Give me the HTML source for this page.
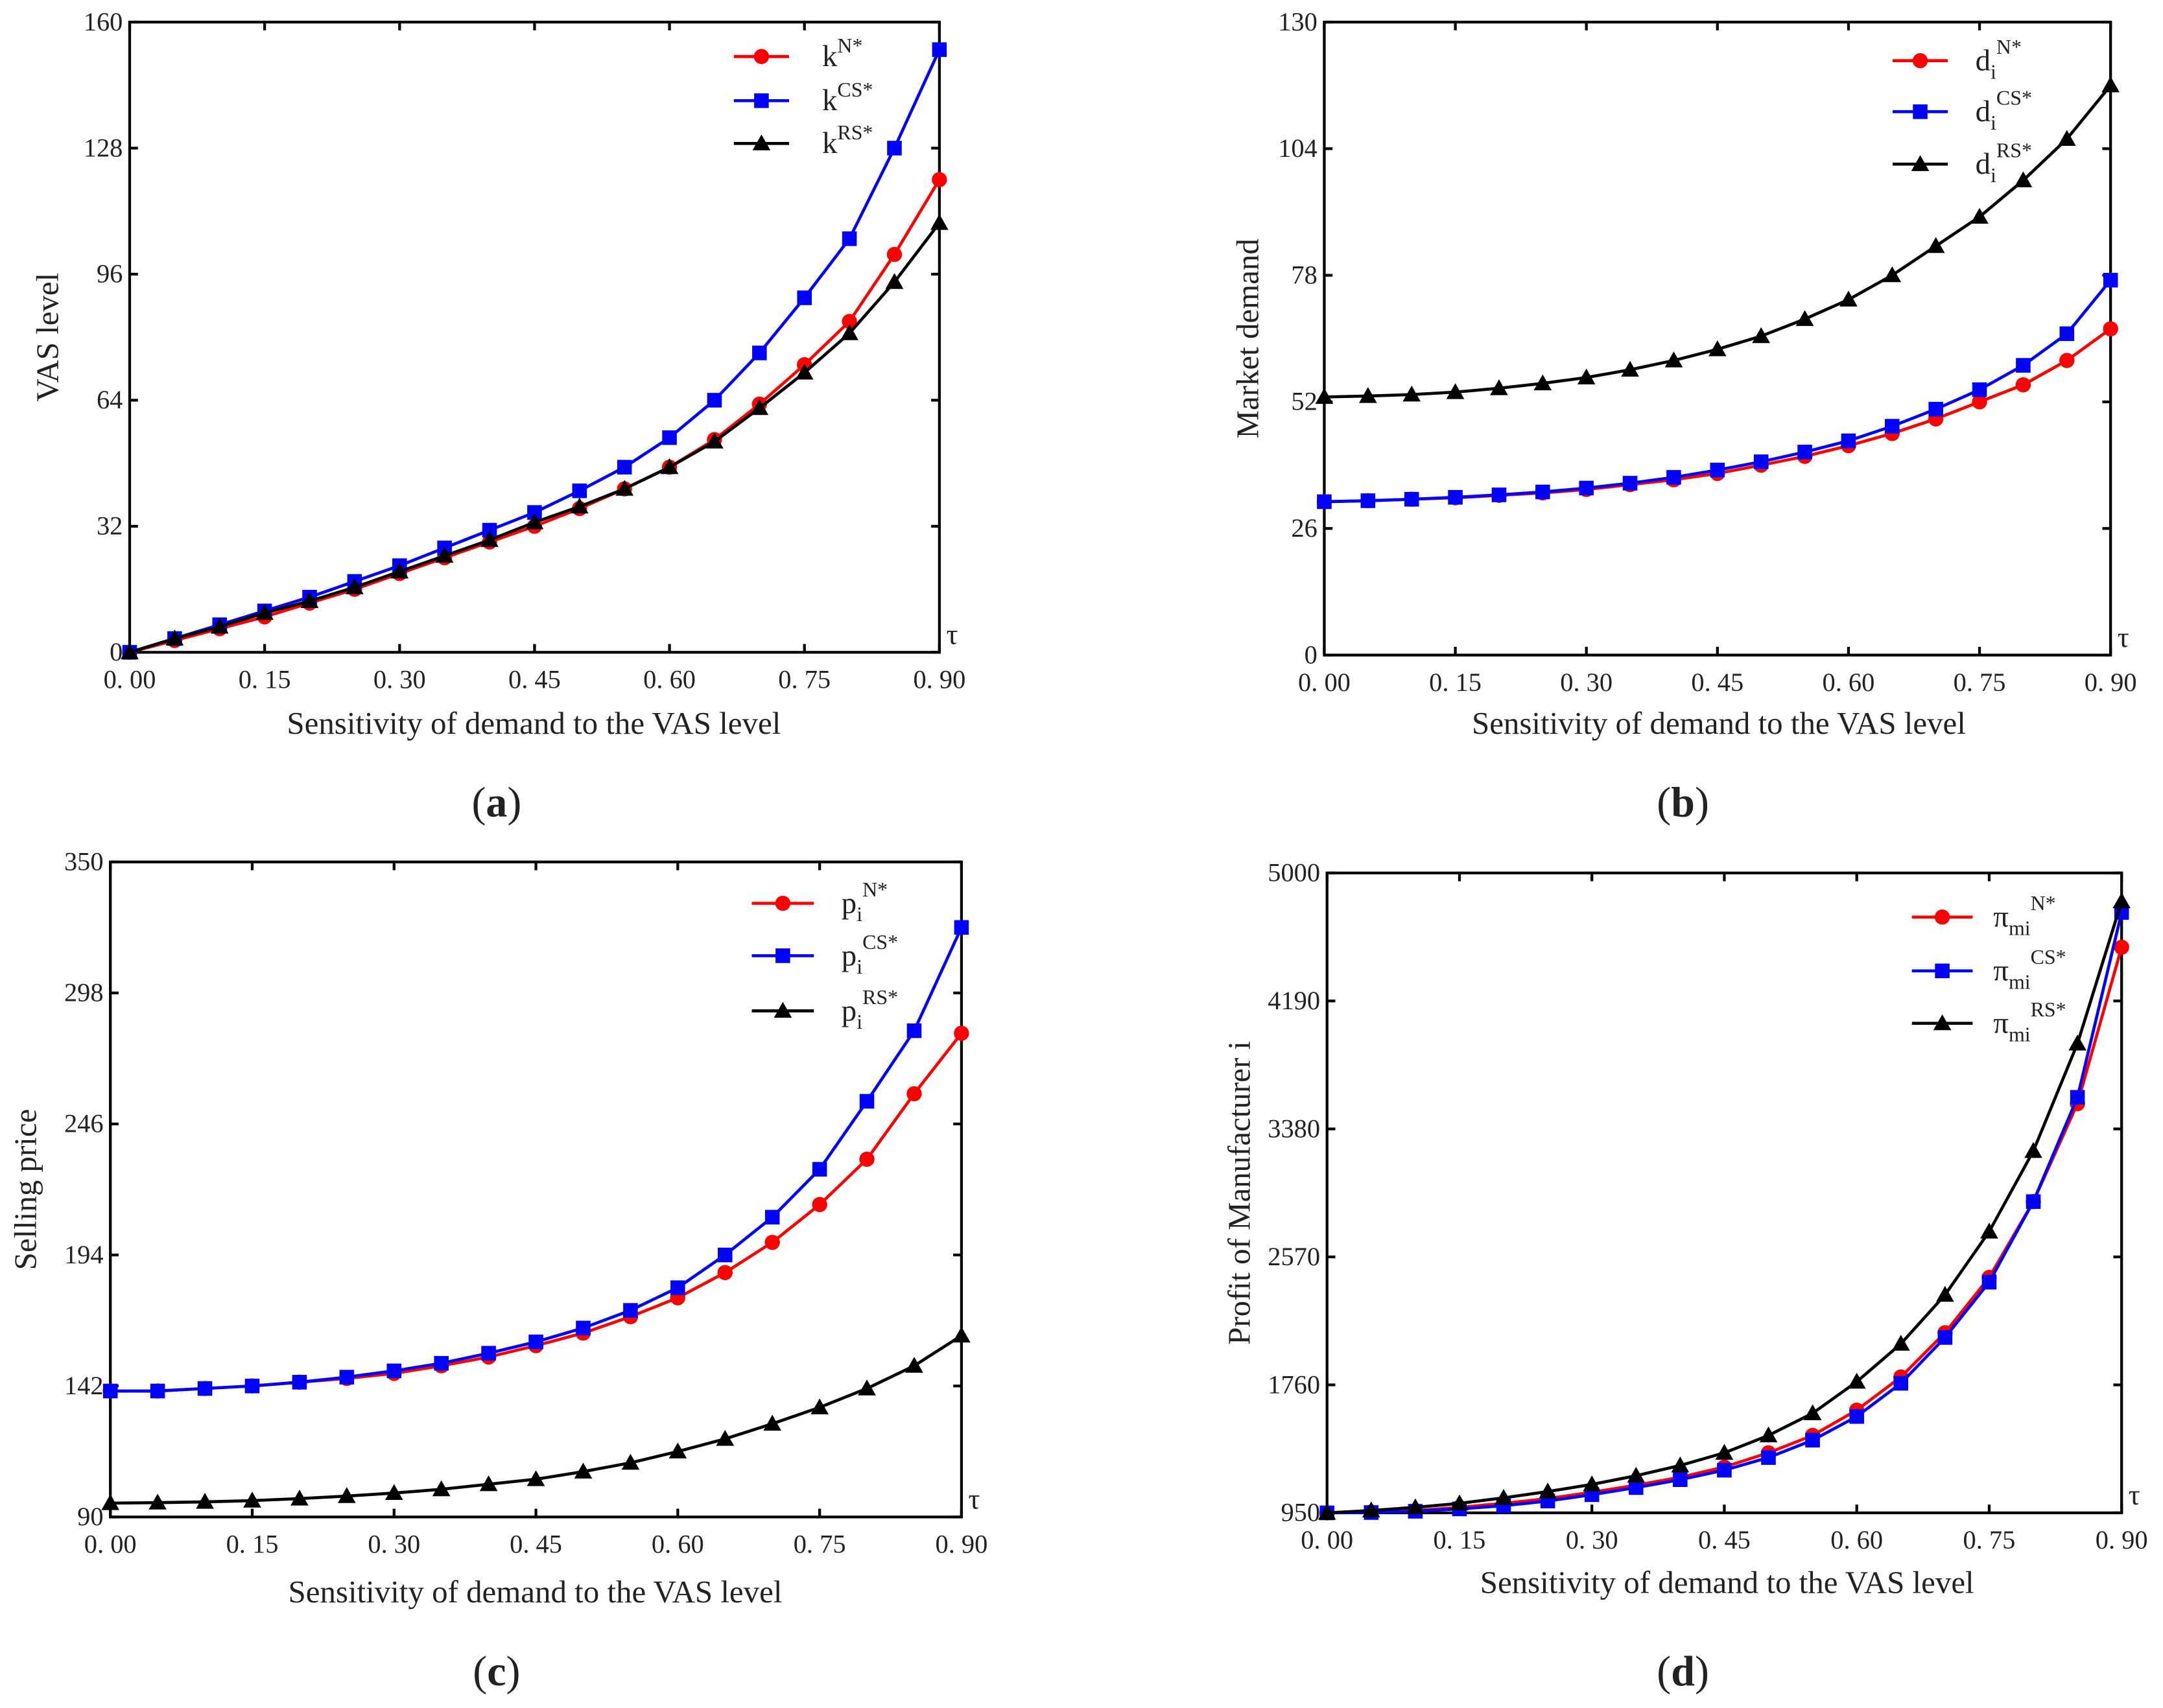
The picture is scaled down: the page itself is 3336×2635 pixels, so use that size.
<!DOCTYPE html>
<html><head><meta charset="utf-8">
<style>
html,body{margin:0;padding:0;background:#fff;}
svg{display:block;}
text{font-family:"Liberation Serif","Noto Serif CJK SC",serif;fill:#222;}
</style></head>
<body>
<svg id="fig" xmlns="http://www.w3.org/2000/svg" width="3336" height="2635" viewBox="0 0 1568 1238.5">
<rect width="1568" height="1238.5" fill="#fff"/>
</svg>
<script>
const xValues=[0,0.05,0.1,0.15,0.2,0.25,0.3,0.35,0.4,0.45,0.5,0.55,0.6,0.65,0.7,0.75,0.8,0.85,0.9];
const xTicks=[0,0.15,0.3,0.45,0.6,0.75,0.9];
const xTickLabels=["0. 00","0. 15","0. 30","0. 45","0. 60","0. 75","0. 90"];

const aN=[0,3,6,9,12.5,16,20,24,28,32,36.5,41.5,47,54,63,73,84,101,120];
const aCS=[0,3.5,7,10.5,14,18,22,26.5,31,35.5,41,47,54.5,64,76,90,105,128,153];
const aRS=[0,3.5,6.5,10,13,16.5,20.5,24.5,28.5,33,37,41.5,47,53.5,62,71,81,94,109];
const aTicks=[0,32,64,96,128,160];

const bN=[31.5,31.7,32,32.3,32.8,33.3,34,35,36,37.3,39,40.8,43,45.5,48.5,52,55.5,60.5,67];
const bCS=[31.5,31.7,32,32.4,32.9,33.5,34.3,35.3,36.5,38,39.7,41.7,44,47,50.5,54.5,59.5,66,77];
const bRS=[53,53.2,53.5,54,54.8,55.8,57,58.6,60.5,62.8,65.5,69,73,78,84,90,97.5,106,117];
const bTicks=[0,26,52,78,104,130];

const cN=[140,140,141,142,143.5,145,147,150,153.5,158,163,169.5,177,187,199,214,232,258,282];
const cCS=[140,140,141,142,143.5,145.5,148,151,155,159.5,165,172,181,194,209,228,255,283,324];
const cRS=[95.5,95.7,96,96.5,97.3,98.3,99.5,101,103,105,108,111.5,116,121,127,133.5,141,150,162];
const cTicks=[90,142,194,246,298,350];

const dN=[950,955,965,985,1010,1040,1080,1125,1175,1240,1330,1440,1600,1810,2090,2440,2920,3540,4530];
const dCS=[950,952,960,975,995,1025,1065,1110,1160,1220,1300,1410,1560,1770,2060,2410,2920,3580,4750];
const dRS=[950,965,985,1010,1045,1085,1130,1185,1250,1330,1440,1580,1780,2020,2330,2730,3240,3920,4820];
const dTicks=[950,1760,2570,3380,4190,5000];

const NS="http://www.w3.org/2000/svg";
const svg=document.getElementById('fig');
function mk(tag,attrs,parent){const e=document.createElementNS(NS,tag);for(const k in attrs)e.setAttribute(k,attrs[k]);(parent||svg).appendChild(e);return e;}

const panels=[
 {id:'a',x0:94,x1:681,y0:16,y1:473,ticks:aTicks,series:[aN,aCS,aRS],ylabel:'VAS level',ylx:42,xlx:387,xly:532,cap:'a',capx:360,capy:592,
  base:'k',subs:['','',''],sups:['N*','CS*','RS*'],leg:{x1:532,x2:572,tx:596,ys:[41,73,104]}},
 {id:'b',x0:960,x1:1530,y0:16,y1:475,ticks:bTicks,series:[bN,bCS,bRS],ylabel:'Market demand',ylx:912,xlx:1246,xly:532,cap:'b',capx:1220,capy:592,
  base:'d',subs:['i','i','i'],sups:['N*','CS*','RS*'],leg:{x1:1372,x2:1412,tx:1432,ys:[44,81,119]}},
 {id:'c',x0:80,x1:697,y0:625,y1:1100,ticks:cTicks,series:[cN,cCS,cRS],ylabel:'Selling price',ylx:26,xlx:388,xly:1162,cap:'c',capx:360,capy:1222,
  base:'p',subs:['i','i','i'],sups:['N*','CS*','RS*'],leg:{x1:545,x2:590,tx:610,ys:[655,693,733]}},
 {id:'d',x0:962,x1:1538,y0:633,y1:1097,ticks:dTicks,series:[dN,dCS,dRS],ylabel:'Profit of Manufacturer i',ylx:906,xlx:1252,xly:1155,cap:'d',capx:1220,capy:1222,
  base:'π',subs:['mi','mi','mi'],sups:['N*','CS*','RS*'],leg:{x1:1386,x2:1430,tx:1445,ys:[665,704,742]}}
];
const colors=['#ff0000','#0000ff','#000000'];
const markers=['circle','square','triangle'];
const snames=['n','cs','rs'];

function marker(g,type,x,y,color){
  let m;
  if(type==='circle')m=mk('circle',{cx:x,cy:y,r:5.5,fill:color},g);
  else if(type==='square')m=mk('rect',{x:x-5.3,y:y-5.3,width:10.6,height:10.6,fill:color},g);
  else m=mk('polygon',{points:`${x},${y-6.5} ${x-6.5},${y+5} ${x+6.5},${y+5}`,fill:color},g);
  return m;
}

panels.forEach(p=>{
  const g=mk('g',{});
  
  
  const tmin=p.ticks[0],tmax=p.ticks[p.ticks.length-1];
  const sx=v=>p.x0+(v-0)/(0.9-0)*(p.x1-p.x0);
  const sy=v=>p.y1-(v-tmin)/(tmax-tmin)*(p.y1-p.y0);
  const frame=mk('rect',{x:p.x0,y:p.y0,width:p.x1-p.x0,height:p.y1-p.y0,fill:'none',stroke:'#000','stroke-width':2},g);
  
  
  p.ticks.forEach((t,i)=>{
    const y=sy(t);
    mk('line',{x1:p.x0,x2:p.x0+6,y1:y,y2:y,stroke:'#000','stroke-width':2},g);
    mk('line',{x1:p.x1,x2:p.x1-6,y1:y,y2:y,stroke:'#000','stroke-width':2},g);
    const tl=mk('text',{x:p.x0-5,y:y+6,'text-anchor':'end','font-size':19},g);
    tl.textContent=t;
    
    
  });
  xTicks.forEach((t,i)=>{
    const x=sx(t);
    mk('line',{x1:x,x2:x,y1:p.y1,y2:p.y1-6,stroke:'#000','stroke-width':2},g);
    mk('line',{x1:x,x2:x,y1:p.y0,y2:p.y0+6,stroke:'#000','stroke-width':2},g);
    const tl=mk('text',{x:x,y:p.y1+26,'text-anchor':'middle','font-size':19},g);
    tl.textContent=xTickLabels[i];
    
    
  });
  const tau=mk('text',{x:p.x1+5,y:p.y1-6,'font-size':21},g);
  tau.textContent='τ';
  
  
  const xl=mk('text',{x:p.xlx,y:p.xly,'text-anchor':'middle','font-size':23},g);
  xl.textContent='Sensitivity of demand to the VAS level';
  
  
  const cy=(p.y0+p.y1)/2;
  const yl=mk('text',{x:p.ylx,y:cy,'text-anchor':'middle','font-size':23,transform:`rotate(-90 ${p.ylx} ${cy})`},g);
  yl.textContent=p.ylabel;
  
  
  const cap=mk('text',{x:p.capx,y:p.capy,'text-anchor':'middle','font-size':31},g);
  cap.innerHTML='(<tspan font-weight="bold">'+p.cap+'</tspan>)';
  
  
  p.series.forEach((vals,si)=>{
    const sg=mk('g',{},g);
    
    
    const pts=vals.map((v,i)=>sx(xValues[i])+','+sy(v)).join(' ');
    mk('polyline',{points:pts,fill:'none',stroke:colors[si],'stroke-width':2.2},sg);
    vals.forEach((v,i)=>{
      const m=marker(sg,markers[si],sx(xValues[i]),sy(v),colors[si]);
      
      
    });
    const ly=p.leg.ys[si];
    const lg=mk('g',{},g);
    
    
    mk('line',{x1:p.leg.x1,x2:p.leg.x2,y1:ly,y2:ly,stroke:colors[si],'stroke-width':2.2},lg);
    marker(lg,markers[si],(p.leg.x1+p.leg.x2)/2,ly,colors[si]);
    const lt=mk('text',{x:p.leg.tx,y:ly+7,'font-size':22},lg);
    let s=p.base;
    if(p.subs[si])s+='<tspan font-size="15" dy="6">'+p.subs[si]+'</tspan><tspan font-size="15" dy="-18">'+p.sups[si]+'</tspan>';
    else s+='<tspan font-size="15" dy="-10">'+p.sups[si]+'</tspan>';
    lt.innerHTML=s;
  });
});
</script>
</body></html>
